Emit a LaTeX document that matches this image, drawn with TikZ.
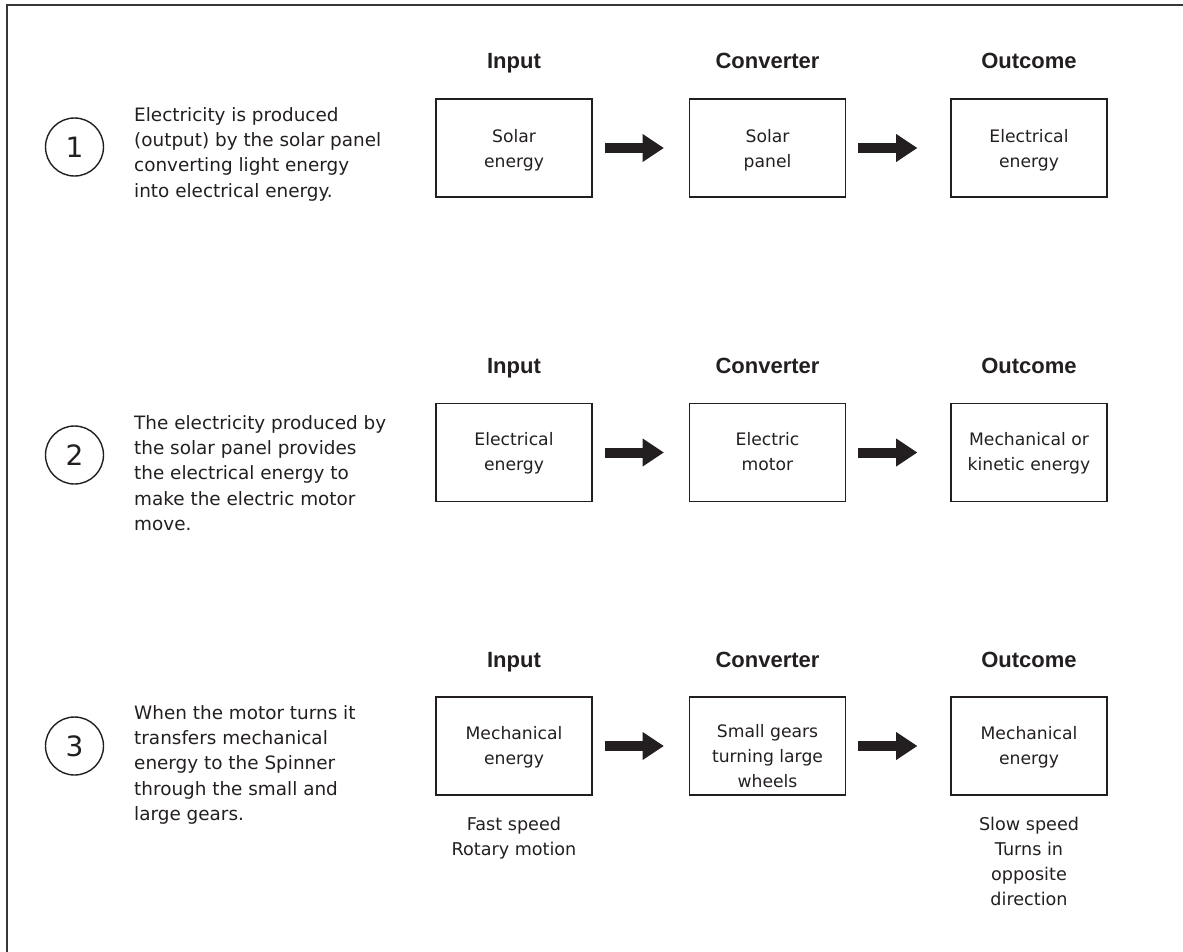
\documentclass[tikz,border=0pt]{standalone}
\usepackage{fontspec}
\setmainfont{DejaVu Sans}
\newfontfamily\headfont{Liberation Sans}
\usetikzlibrary{arrows.meta,calc}
\definecolor{ink}{RGB}{35,31,32}
\definecolor{framec}{RGB}{55,55,55}
\begin{document}
\begin{tikzpicture}[x=1pt,y=-1pt,
  desc/.style={anchor=north west, align=left, inner sep=0pt, text=ink, font=\fontsize{18.4}{25.4}\selectfont},
  boxtxt/.style={anchor=north, align=center, inner sep=0pt, text=ink, font=\fontsize{17.2}{25}\selectfont},
  subtxt/.style={anchor=north, align=center, inner sep=0pt, text=ink, font=\fontsize{17.6}{25}\selectfont},
  head/.style={anchor=base, inner sep=0pt, text=ink, font=\headfont\fontsize{22}{26}\selectfont\bfseries},
  box/.style={draw=ink, line width=1.6pt, minimum width=156pt, minimum height=98pt, inner sep=0pt},
  numc/.style={circle, draw=ink, line width=1.4pt, minimum size=58pt, inner sep=0pt, text=ink, font=\fontsize{28}{28}\selectfont},
  bigarrow/.style={draw=ink, line width=10pt, -{Triangle[length=21pt,width=28pt,line width=0pt]}},
]
\useasboundingbox (0,0) rectangle (1183,951);
\begin{scope}
  \clip (0,0) rectangle (1183,951);
  \draw[framec, line width=2pt] (7,5) rectangle (1200,975);
\end{scope}

% ---------- Row 1 ----------
\node[numc] (c1) at (74.5,147) {1};
\node[desc] (d1) at (134,107) {Electricity is produced\\(output) by the solar panel\\converting light energy\\into electrical energy.};
\node[head] (h1a) at (514,68) {Input};
\node[head] (h1b) at (767.5,68) {Converter};
\node[head] (h1c) at (1029,68) {Outcome};
\node[box] (in1) at (514,148) {};
\node[box] (cv1) at (767.5,148) {};
\node[box] (out1) at (1029,148) {};
\node[boxtxt] (tin1) at ($(in1.north)+(0,31)$) {Solar\\energy};
\node[boxtxt] (tcv1) at ($(cv1.north)+(0,31)$) {Solar\\panel};
\node[boxtxt] (tout1) at ($(out1.north)+(0,31)$) {Electrical\\energy};
\draw[bigarrow, shorten <=12pt, shorten >=25pt] (in1) -- (cv1);
\draw[bigarrow, shorten <=12pt, shorten >=33pt] (cv1) -- (out1);

% ---------- Row 2 ----------
\node[numc] (c2) at (74.5,455) {2};
\node[desc] (d2) at (134,415) {The electricity produced by\\the solar panel provides\\the electrical energy to\\make the electric motor\\move.};
\node[head] (h2a) at (514,373) {Input};
\node[head] (h2b) at (767.5,373) {Converter};
\node[head] (h2c) at (1029,373) {Outcome};
\node[box] (in2) at (514,452.5) {};
\node[box] (cv2) at (767.5,452.5) {};
\node[box] (out2) at (1029,452.5) {};
\node[boxtxt] (tin2) at ($(in2.north)+(0,30)$) {Electrical\\energy};
\node[boxtxt] (tcv2) at ($(cv2.north)+(0,30)$) {Electric\\motor};
\node[boxtxt] (tout2) at ($(out2.north)+(0,30)$) {Mechanical or\\kinetic energy};
\draw[bigarrow, shorten <=12pt, shorten >=25pt] (in2) -- (cv2);
\draw[bigarrow, shorten <=12pt, shorten >=33pt] (cv2) -- (out2);

% ---------- Row 3 ----------
\node[numc] (c3) at (74.5,746) {3};
\node[desc] (d3) at (134,705) {When the motor turns it\\transfers mechanical\\energy to the Spinner\\through the small and\\large gears.};
\node[head] (h3a) at (514,667) {Input};
\node[head] (h3b) at (767.5,667) {Converter};
\node[head] (h3c) at (1029,667) {Outcome};
\node[box] (in3) at (514,746) {};
\node[box] (cv3) at (767.5,746) {};
\node[box] (out3) at (1029,746) {};
\node[boxtxt] (tin3) at ($(in3.north)+(0,30)$) {Mechanical\\energy};
\node[boxtxt] (tcv3) at ($(cv3.north)+(0,28)$) {Small gears\\turning large\\wheels};
\node[boxtxt] (tout3) at ($(out3.north)+(0,30)$) {Mechanical\\energy};
\draw[bigarrow, shorten <=12pt, shorten >=25pt] (in3) -- (cv3);
\draw[bigarrow, shorten <=12pt, shorten >=33pt] (cv3) -- (out3);
\node[subtxt] (s3a) at (514,817) {Fast speed\\Rotary motion};
\node[subtxt] (s3c) at (1029,817) {Slow speed\\Turns in\\opposite\\direction};
\end{tikzpicture}
\end{document}
